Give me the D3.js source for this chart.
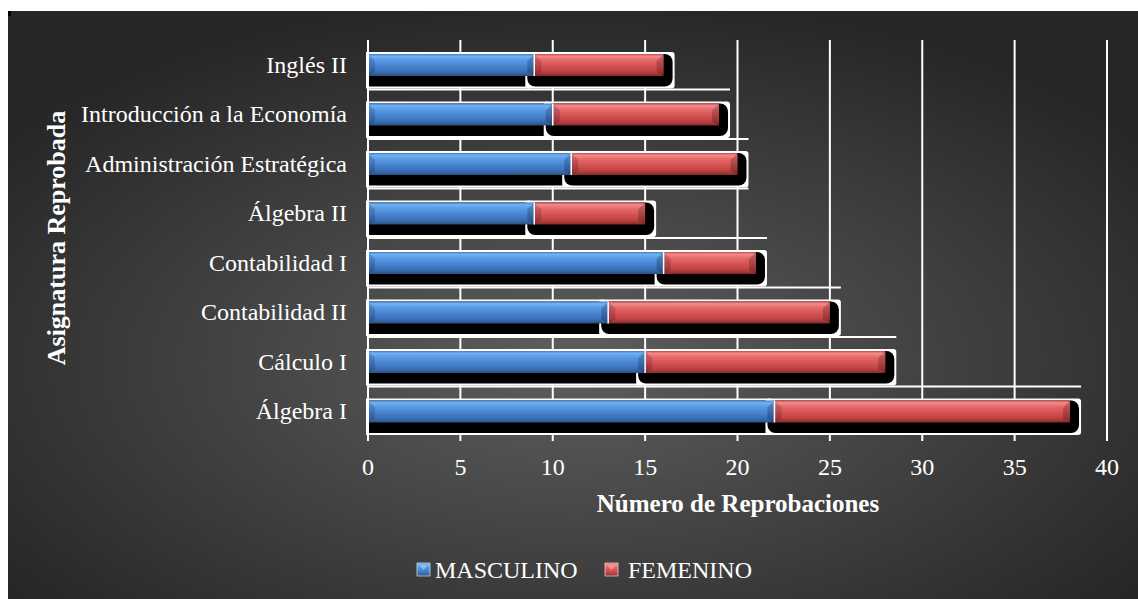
<!DOCTYPE html>
<html><head><meta charset="utf-8">
<script src="https://cdn.jsdelivr.net/npm/d3@7"></script>
<style>html,body{margin:0;padding:0;background:#fff;}svg{display:block;}</style>
</head><body>
<svg id="chart" width="1138" height="599"></svg>
<script>
const categories = ["Inglés II","Introducción a la Economía","Administración Estratégica","Álgebra II","Contabilidad I","Contabilidad II","Cálculo I","Álgebra I"];
const masculino = [9,10,11,9,16,13,15,22];
const femenino  = [7,9,9,6,5,12,13,16];
const xTicks = [0,5,10,15,20,25,30,35,40];
const seriesNames = ["MASCULINO","FEMENINO"];
const xTitle = "Número de Reprobaciones";
const yTitle = "Asignatura Reprobada";

const svg = d3.select("#chart");
const defs = svg.append("defs");
const bg = defs.append("radialGradient").attr("id","bg").attr("cx","50%").attr("cy","60%").attr("r","62%");
bg.append("stop").attr("offset","0%").attr("stop-color","#5e5e5e");
bg.append("stop").attr("offset","100%").attr("stop-color","#272727");

function barGrad(id, stops){
  const g = defs.append("linearGradient").attr("id",id).attr("x1",0).attr("y1",0).attr("x2",0).attr("y2",1);
  stops.forEach(s=>g.append("stop").attr("offset",s[0]).attr("stop-color",s[1]));
}
barGrad("gBlue",[["0%","#3d7bc8"],["10%","#72b2f3"],["26%","#5c9de6"],["55%","#4784d0"],["78%","#3b71b8"],["90%","#34629e"],["100%","#2a4f7e"]]);
barGrad("gRed",[["0%","#c44646"],["10%","#f48c8c"],["26%","#e76c6c"],["55%","#d65252"],["78%","#c04343"],["90%","#a53838"],["100%","#7e2a2a"]]);

svg.append("rect").attr("width",1138).attr("height",599).attr("fill","#fff");
svg.append("rect").attr("x",8).attr("y",11).attr("width",1130).attr("height",588).attr("fill","url(#bg)");
svg.append("rect").attr("x",8).attr("y",11).attr("width",3).attr("height",5).attr("fill","#000");

const x = d3.scaleLinear().domain([0,40]).range([368,1107]);
const y = d3.scaleBand().domain(categories).range([40,436]).paddingInner(0).paddingOuter(0);
const step = y.step();

// vertical gridlines
svg.append("g").selectAll("line").data(xTicks).join("line")
  .attr("x1",d=>x(d)).attr("x2",d=>x(d)).attr("y1",40).attr("y2",441)
  .attr("stroke","#fff").attr("stroke-width",2);

const totals = masculino.map((m,i)=>m+femenino[i]);
// horizontal category boundary lines (only as far as the adjacent bars reach)
const bLines = categories.slice(1).map((c,i)=>({y:y(c), ext:Math.max(totals[i],totals[i+1])}));
svg.append("g").selectAll("line").data(bLines).join("line")
  .attr("x1",368).attr("x2",d=>x(d.ext)+11).attr("y1",d=>d.y).attr("y2",d=>d.y)
  .attr("stroke","#fff").attr("stroke-width",2);

const rows = categories.map((c,i)=>({c, segs:[
  {x0:0, x1:masculino[i], fill:"url(#gBlue)", s:0},
  {x0:masculino[i], x1:masculino[i]+femenino[i], fill:"url(#gRed)", s:1}
]}));

const barOff = 14, barH = 22;
const gRows = svg.append("g");
rows.forEach(r=>{
  const top = y(r.c)+barOff, bot = top+barH, shBot = y(r.c)+step-2;
  const g = gRows.append("g");
  r.segs.forEach(s=>{
    const a = x(s.x0), b = x(s.x1);
    const L = s.s===0 ? a : a-7;
    const R = s.s===0 ? b-6 : b+9;
    g.append("rect").attr("x",L-2).attr("y",top-2).attr("width",R-L+4).attr("height",shBot-top+3)
      .attr("rx",s.s===0?0:3).attr("fill","#fff");
    g.append("rect").attr("x",L).attr("y",top).attr("width",R-L).attr("height",shBot-top-1)
      .attr("rx",s.s===0?0:8).attr("fill","#000");
  });
  r.segs.forEach(s=>{
    const a = x(s.x0), b = x(s.x1);
    g.append("rect").attr("x",a).attr("y",top).attr("width",b-a).attr("height",barH).attr("fill",s.fill);
    g.append("polygon").attr("points",`${a},${top} ${a+7},${top+7} ${a+7},${bot-4} ${a},${bot}`).attr("fill","rgba(0,0,30,0.16)");
    g.append("polygon").attr("points",`${b},${top} ${b-7},${top+7} ${b-7},${bot-4} ${b},${bot}`).attr("fill","rgba(0,0,0,0.2)");
  });
  const m = x(r.segs[0].x1);
  g.append("line").attr("x1",m).attr("x2",m).attr("y1",top).attr("y2",bot).attr("stroke","#fff").attr("stroke-width",1.5);
});

// axis line
svg.append("line").attr("x1",368).attr("x2",368).attr("y1",40).attr("y2",441).attr("stroke","#fff").attr("stroke-width",2);

const font = "'Liberation Serif','Times New Roman',serif";
// category labels
svg.append("g").selectAll("text").data(categories).join("text")
  .attr("x",347).attr("y",d=>y(d)+step/2+8).attr("text-anchor","end")
  .attr("font-family",font).attr("font-size",24).attr("fill","#fff").text(d=>d);
// tick labels
svg.append("g").selectAll("text").data(xTicks).join("text")
  .attr("x",d=>x(d)).attr("y",475).attr("text-anchor","middle")
  .attr("font-family",font).attr("font-size",24).attr("fill","#fff").text(d=>d);
// titles
svg.append("text").attr("x",738).attr("y",512).attr("text-anchor","middle")
  .attr("font-family",font).attr("font-weight","bold").attr("font-size",25).attr("fill","#fff").text(xTitle);
svg.append("text").attr("transform","translate(65,238) rotate(-90)").attr("text-anchor","middle")
  .attr("font-family",font).attr("font-weight","bold").attr("font-size",26).attr("fill","#fff").text(yTitle);

// legend
const legX = [417,605], txtX = [435,628];
seriesNames.forEach((n,i)=>{
  const lg = svg.append("g");
  lg.append("rect").attr("x",legX[i]).attr("y",563).attr("width",13).attr("height",13)
    .attr("fill",i===0?"url(#gBlue)":"url(#gRed)").attr("stroke","#fff").attr("stroke-width",0.6);
  lg.append("polygon").attr("points",`${legX[i]+2},${565} ${legX[i]+11},${565} ${legX[i]+6.5},${570}`)
    .attr("fill",i===0?"#8cc4ff":"#ff9a9a").attr("opacity",0.8);
  lg.append("text").attr("x",txtX[i]).attr("y",578).attr("font-family",font).attr("font-size",24)
    .attr("fill","#fff").text(n);
});
</script>
</body></html>
